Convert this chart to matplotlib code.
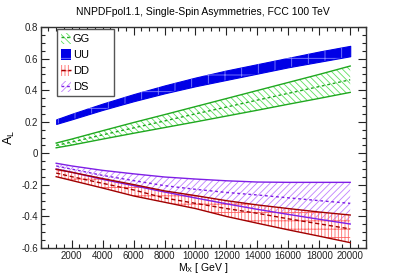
import matplotlib
matplotlib.use("Agg")
import matplotlib.pyplot as plt
from matplotlib.patches import Patch
from matplotlib.lines import Line2D
from matplotlib.ticker import MultipleLocator, FixedLocator, FuncFormatter

plt.rcParams['font.family'] = ['Liberation Sans', 'DejaVu Sans']
plt.rcParams['mathtext.default'] = 'regular'
plt.rcParams['axes.unicode_minus'] = False
plt.rcParams['hatch.linewidth'] = 0.6

# ---- data ----
mass = [1000, 2000, 4000, 6000, 8000, 10000, 12000, 14000, 16000, 18000, 20000]

uu_hi = [0.215, 0.25, 0.315, 0.375, 0.43, 0.48, 0.525, 0.565, 0.605, 0.645, 0.681]
uu_lo = [0.186, 0.215, 0.275, 0.33, 0.38, 0.425, 0.465, 0.505, 0.545, 0.58, 0.615]

gg_hi = [0.065, 0.09, 0.143, 0.195, 0.245, 0.296, 0.347, 0.398, 0.449, 0.50, 0.553]
gg_mid = [0.05, 0.071, 0.117, 0.161, 0.205, 0.25, 0.293, 0.337, 0.38, 0.423, 0.466]
gg_lo = [0.035, 0.052, 0.09, 0.127, 0.163, 0.199, 0.236, 0.273, 0.311, 0.348, 0.386]

ds_hi = [-0.063, -0.08, -0.108, -0.13, -0.15, -0.163, -0.174, -0.182, -0.184, -0.184, -0.184]
ds_mid = [-0.08, -0.10, -0.14, -0.173, -0.205, -0.228, -0.248, -0.264, -0.282, -0.30, -0.317]
ds_lo = [-0.10, -0.12, -0.165, -0.205, -0.245, -0.283, -0.32, -0.355, -0.387, -0.418, -0.448]

dd_hi = [-0.101, -0.12, -0.16, -0.198, -0.238, -0.268, -0.30, -0.327, -0.35, -0.372, -0.391]
dd_mid = [-0.125, -0.148, -0.19, -0.232, -0.283, -0.317, -0.35, -0.38, -0.415, -0.447, -0.479]
dd_lo = [-0.148, -0.172, -0.22, -0.27, -0.31, -0.35, -0.40, -0.443, -0.485, -0.525, -0.566]

labels = ['GG', 'UU', 'DD', 'DS']
title = 'NNPDFpol1.1, Single-Spin Asymmetries, FCC 100 TeV'

# ---- styles ----
c_gg_line, c_gg_h = '#1fa81f', '#5ee05e'
c_uu = '#0000e6'
c_dd_line, c_dd_h = '#a00000', '#ff6a6a'
c_ds_line, c_ds_h = '#7f1fe6', '#c080ff'

fig = plt.figure(figsize=(4.07, 2.76), dpi=100)
ax = fig.add_axes([0.1, 0.1014, 0.7985, 0.8006])

# DS
ax.fill_between(mass, ds_lo, ds_hi, facecolor='white', edgecolor=c_ds_h, hatch='/////', linewidth=0, zorder=2)
ax.plot(mass, ds_hi, color=c_ds_line, lw=1.0, zorder=3)
ax.plot(mass, ds_lo, color=c_ds_line, lw=1.0, zorder=3)
ax.plot(mass, ds_mid, color=c_ds_line, lw=1.0, ls=(0, (2, 2)), zorder=3)

# DD
ax.fill_between(mass, dd_lo, dd_hi, facecolor='none', edgecolor=c_dd_h, hatch='|||||--', linewidth=0, zorder=2)
ax.plot(mass, dd_hi, color=c_dd_line, lw=1.0, zorder=3)
ax.plot(mass, dd_lo, color=c_dd_line, lw=1.0, zorder=3)
ax.plot(mass, dd_mid, color=c_dd_line, lw=1.0, ls=(0, (3, 2)), zorder=3)

# GG
ax.fill_between(mass, gg_lo, gg_hi, facecolor='white', edgecolor=c_gg_h, hatch='\\\\\\\\\\', linewidth=0, zorder=2)
ax.plot(mass, gg_hi, color=c_gg_line, lw=1.0, zorder=3)
ax.plot(mass, gg_lo, color=c_gg_line, lw=1.0, zorder=3)
ax.plot(mass, gg_mid, color=c_gg_line, lw=1.0, ls=(0, (2, 2)), zorder=3)

# UU
ax.fill_between(mass, uu_lo, uu_hi, facecolor=c_uu, edgecolor=c_uu, linewidth=0.8, zorder=2)
ax.fill_between(mass, uu_lo, uu_hi, facecolor='none', edgecolor='#8080ff', hatch='+', linewidth=0, zorder=2.5)

ax.set_xlim(0, 21000)
ax.set_ylim(-0.6, 0.8)
ax.xaxis.set_major_locator(FixedLocator(list(range(2000, 20001, 2000))))
ax.xaxis.set_minor_locator(MultipleLocator(500))
ax.yaxis.set_major_locator(MultipleLocator(0.2))
ax.yaxis.set_minor_locator(MultipleLocator(0.05))
ax.yaxis.set_major_formatter(FuncFormatter(lambda v, p: '%g' % round(v, 3)))
ax.tick_params(which='both', direction='in', top=True, right=True, labelsize=7, colors='#222222', pad=2)
ax.tick_params(which='major', length=6, width=0.8)
ax.tick_params(which='minor', length=3, width=0.8)
for s in ax.spines.values():
    s.set_color('#333333')
    s.set_linewidth(1.0)

ax.set_title(title, fontsize=7.5, pad=9)
ax.set_xlabel('M$_X$ [ GeV ]', fontsize=7.5, labelpad=0.5)
ax.set_ylabel('A$_L$', fontsize=9, labelpad=3)

h_gg = (Patch(facecolor='white', edgecolor=c_gg_h, hatch='\\\\\\\\\\', linewidth=0),
        Line2D([], [], color=c_gg_line, ls=(0, (2, 2)), lw=1.0))
h_uu = (Patch(facecolor=c_uu, edgecolor=c_uu, linewidth=0),
        Patch(facecolor='none', edgecolor='#8080ff', hatch='+', linewidth=0))
h_dd = (Patch(facecolor='white', edgecolor=c_dd_h, hatch='|||||--', linewidth=0),
        Line2D([], [], color=c_dd_line, ls=(0, (3, 2)), lw=1.0))
h_ds = (Patch(facecolor='white', edgecolor=c_ds_h, hatch='/////', linewidth=0),
        Line2D([], [], color=c_ds_line, ls=(0, (2, 2)), lw=1.0))

leg = ax.legend([h_gg, h_uu, h_dd, h_ds], labels,
                loc='upper left', bbox_to_anchor=(0.049, 0.991, 0.176, 0.0),
                mode='expand', fontsize=8, frameon=True, fancybox=False,
                edgecolor='#555555', framealpha=1, borderaxespad=0,
                handlelength=0.9, handleheight=1.1, handletextpad=0.2,
                labelspacing=0.45, borderpad=0.35)
leg.get_frame().set_linewidth(1.0)

fig.savefig('out.png', dpi=100)
